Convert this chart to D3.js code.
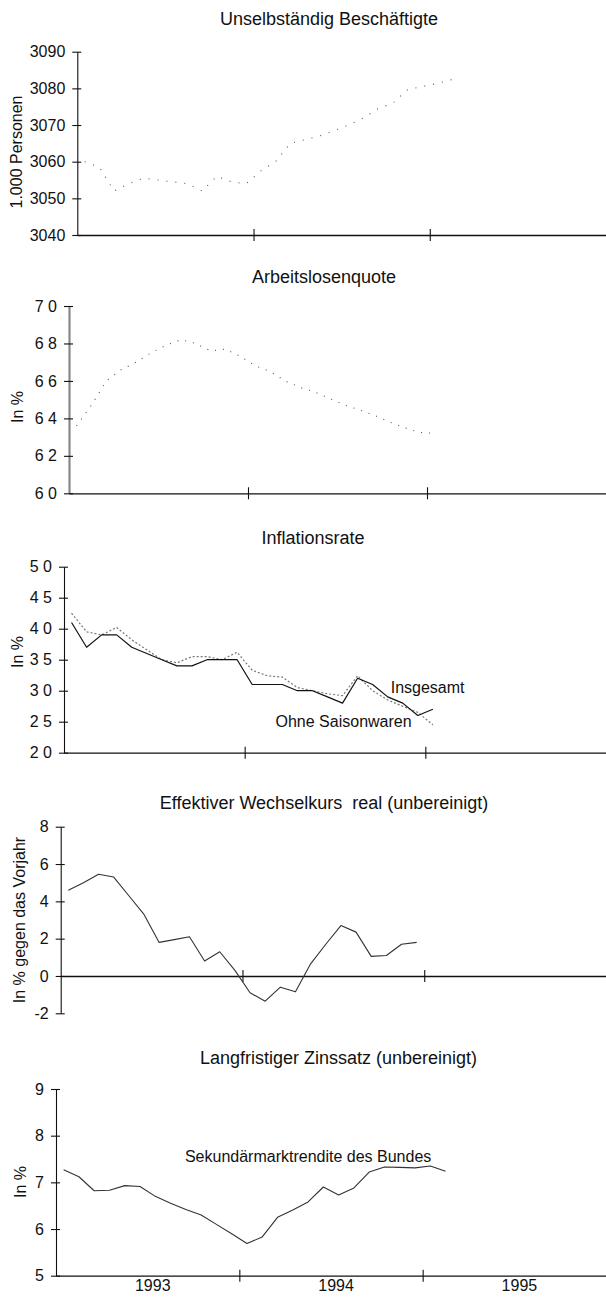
<!DOCTYPE html>
<html>
<head>
<meta charset="utf-8">
<script src="https://cdn.jsdelivr.net/npm/d3@7"></script>
<style>
  html, body { margin: 0; padding: 0; background: #fff; }
  svg { display: block; }
  text { font-family: "Liberation Sans", Arial, Helvetica, sans-serif; fill: #111; }
</style>
</head>
<body>
<svg id="chart" width="606" height="1298"></svg>
<script>
// ---------- data (monthly, Jan 1993 onwards) ----------
const years = ["1993", "1994", "1995"];
const monthsOnAxis = 36;

const titles = [
  "Unselbständig Beschäftigte",
  "Arbeitslosenquote",
  "Inflationsrate",
  "Effektiver Wechselkurs  real (unbereinigt)",
  "Langfristiger Zinssatz (unbereinigt)"
];
const yLabels = ["1.000 Personen", "In %", "In %", "In % gegen das Vorjahr", "In %"];

const beschaeftigte = [3060, 3058.5, 3052, 3054, 3055.5, 3055, 3054.5, 3054, 3052, 3056, 3054.5, 3054,
                       3057.5, 3060, 3065, 3066, 3067, 3068.5, 3070, 3072, 3074.5, 3076, 3079.7, 3080.5,
                       3081.3, 3082.4];
const arbeitslosenquote = [6.36, 6.47, 6.60, 6.66, 6.70, 6.75, 6.79, 6.82, 6.80, 6.76, 6.77, 6.73,
                           6.68, 6.65, 6.60, 6.565, 6.54, 6.505, 6.47, 6.445, 6.415, 6.38, 6.35, 6.325,
                           6.32];
const inflationInsgesamt = [4.1, 3.7, 3.9, 3.9, 3.7, 3.6, 3.5, 3.4, 3.4, 3.5, 3.5, 3.5,
                            3.1, 3.1, 3.1, 3.0, 3.0, 2.9, 2.8, 3.2, 3.1, 2.9, 2.8, 2.6,
                            2.7];
const inflationOhneSaison = [4.25, 3.95, 3.9, 4.02, 3.82, 3.66, 3.5, 3.45, 3.55, 3.55, 3.5, 3.62,
                             3.33, 3.24, 3.22, 3.05, 3.0, 2.95, 2.92, 3.24, 3.0, 2.85, 2.75, 2.65,
                             2.45];
const wechselkurs = [4.6, 5.0, 5.45, 5.3, 4.3, 3.3, 1.8, 1.95, 2.1, 0.8, 1.3, 0.3,
                     -0.9, -1.35, -0.6, -0.85, 0.65, 1.7, 2.7, 2.35, 1.05, 1.1, 1.7, 1.8];
const zinssatz = [7.27, 7.12, 6.82, 6.83, 6.93, 6.91, 6.7, 6.55, 6.42, 6.3, 6.1, 5.9,
                  5.69, 5.83, 6.25, 6.41, 6.58, 6.9, 6.73, 6.88, 7.22, 7.33, 7.32, 7.31,
                  7.35, 7.24];

const ticks1 = [3040, 3050, 3060, 3070, 3080, 3090];
const ticks2 = [6.0, 6.2, 6.4, 6.6, 6.8, 7.0];
const ticks3 = [2.0, 2.5, 3.0, 3.5, 4.0, 4.5, 5.0];
const ticks4 = [-2, 0, 2, 4, 6, 8];
const ticks5 = [5, 6, 7, 8, 9];

const seriesLabels = ["Insgesamt", "Ohne Saisonwaren", "Sekundärmarktrendite des Bundes"];

// ---------- drawing ----------
const svg = d3.select("#chart");
const W = 606;
const FONT = '"Liberation Sans", Arial, Helvetica, sans-serif';
const commaLess = d => d.toFixed(1).replace(".", " ");

const panels = [
  { title: titles[0], titleX: 329, titleY: 25, ylab: yLabels[0], ylabX: 18, ylabY: 152,
    x0: 77.3, yDom: [3040, 3090], yRange: [235, 51.7], ticks: ticks1, fmt: d => String(d),
    baseVal: 3040,
    series: [{ values: beschaeftigte, stroke: "#555", width: 1.1, dash: "1 8" }] },
  { title: titles[1], titleX: 324, titleY: 282.5, ylab: yLabels[1], ylabX: 19, ylabY: 407,
    x0: 69, yDom: [6.0, 7.0], yRange: [493.3, 306], ticks: ticks2, fmt: commaLess,
    baseVal: 6.0, yAxisColor: "#888", yAxisWidth: 2.2,
    series: [{ values: arbeitslosenquote, stroke: "#555", width: 1.1, dash: "1 7" }] },
  { title: titles[2], titleX: 313, titleY: 544, ylab: yLabels[2], ylabX: 19, ylabY: 652,
    x0: 64, yDom: [2.0, 5.0], yRange: [752.7, 566.7], ticks: ticks3, fmt: commaLess,
    baseVal: 2.0,
    series: [
      { values: inflationOhneSaison, stroke: "#777", width: 1.2, dash: "2 2" },
      { values: inflationInsgesamt, stroke: "#111", width: 1.2, dash: null }
    ],
    notes: [
      { text: seriesLabels[0], m: 21.7, v: 2.96 },
      { text: seriesLabels[1], m: 14.05, v: 2.41 }
    ] },
  { title: titles[3], titleX: 324, titleY: 809, ylab: yLabels[3], ylabX: 21, ylabY: 920,
    x0: 60.7, yDom: [-2, 8], yRange: [1013.3, 826.7], ticks: ticks4, fmt: d => String(d),
    baseVal: 0,
    series: [{ values: wechselkurs, stroke: "#333", width: 1.1, dash: null }] },
  { title: titles[4], titleX: 338.5, titleY: 1064, ylab: yLabels[4], ylabX: 22, ylabY: 1182,
    x0: 56, yDom: [5, 9], yRange: [1275.7, 1089], ticks: ticks5, fmt: d => String(d),
    baseVal: 5, yearLabels: true,
    series: [{ values: zinssatz, stroke: "#333", width: 1.1, dash: null }],
    notes: [{ text: seriesLabels[2], m: 8.44, v: 7.44 }] }
];

panels.forEach(p => {
  const x = d3.scaleLinear().domain([0, monthsOnAxis]).range([p.x0, W]);
  const y = d3.scaleLinear().domain(p.yDom).range(p.yRange);
  const g = svg.append("g");

  // title
  g.append("text")
    .attr("x", p.titleX).attr("y", p.titleY)
    .attr("text-anchor", "middle")
    .style("white-space", "pre")
    .attr("font-size", 18)
    .text(p.title);

  // y label
  g.append("text")
    .attr("transform", `translate(${p.ylabX},${p.ylabY}) rotate(-90)`)
    .attr("text-anchor", "middle")
    .attr("dominant-baseline", "middle")
    .attr("font-size", 16)
    .text(p.ylab);

  // y axis
  const ya = g.append("g")
    .attr("transform", `translate(${p.x0},0)`)
    .call(d3.axisLeft(y).tickValues(p.ticks).tickFormat(p.fmt).tickSize(0).tickPadding(12));
  ya.select(".domain")
    .attr("stroke", p.yAxisColor || "#111")
    .attr("stroke-width", p.yAxisWidth || 1.1);
  ya.selectAll(".tick text")
    .attr("font-size", 16).attr("font-family", FONT).attr("fill", "#111");
  ya.selectAll(".tick").append("line")
    .attr("x1", -5).attr("x2", 4).attr("stroke", "#111").attr("stroke-width", 1.1);

  // x axis (at baseVal)
  const xa = g.append("g")
    .attr("transform", `translate(0,${y(p.baseVal)})`)
    .call(d3.axisBottom(x).tickValues([12, 24]).tickFormat("").tickSize(0).tickSizeOuter(0));
  xa.select(".domain").attr("stroke", "#111").attr("stroke-width", 1.3);
  xa.selectAll(".tick").append("line")
    .attr("y1", -6).attr("y2", 6).attr("stroke", "#111").attr("stroke-width", 1.1);

  if (p.yearLabels) {
    const yl = g.append("g")
      .attr("transform", `translate(0,${y(p.baseVal)})`)
      .call(d3.axisBottom(x).tickValues([6.3, 18.3, 30.3])
        .tickFormat((d, i) => years[i]).tickSize(0).tickPadding(4));
    yl.select(".domain").remove();
    yl.selectAll(".tick text").attr("font-size", 16).attr("font-family", FONT).attr("fill", "#111");
  }

  // series
  p.series.forEach(s => {
    const line = d3.line().x((d, i) => x(i + 0.5)).y(d => y(d));
    g.append("path")
      .datum(s.values)
      .attr("d", line)
      .attr("fill", "none")
      .attr("stroke", s.stroke)
      .attr("stroke-width", s.width)
      .attr("stroke-dasharray", s.dash)
      .attr("stroke-linejoin", "round");
  });

  (p.notes || []).forEach(n => {
    g.append("text")
      .attr("x", x(n.m)).attr("y", y(n.v))
      .attr("font-size", 16)
      .text(n.text);
  });
});
</script>
</body>
</html>
